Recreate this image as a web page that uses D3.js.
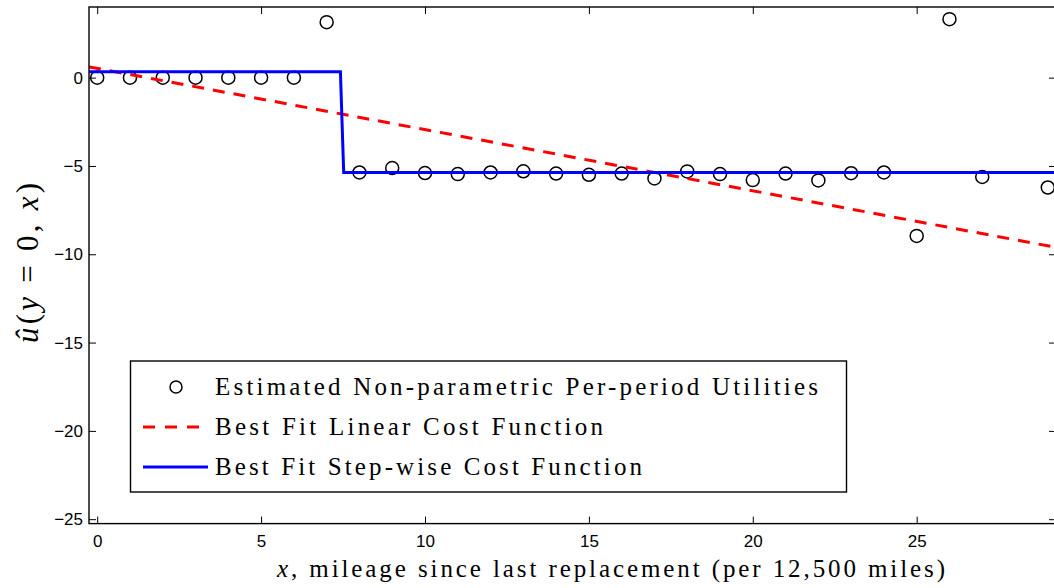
<!DOCTYPE html>
<html>
<head>
<meta charset="utf-8">
<script src="https://cdn.jsdelivr.net/npm/d3@7"></script>
<style>
  body { margin: 0; background: #fff; }
  svg { display: block; }
</style>
</head>
<body>
<div id="chart"></div>
<script>
// estimated per-period utilities (mileage bucket 28 has no estimate)
const mileage = [0, 1, 2, 3, 4, 5, 6, 7, 8, 9, 10, 11, 12, 13, 14, 15, 16, 17, 18, 19, 20, 21, 22, 23, 24, 25, 26, 27, 29];
const utility = [0, 0, 0, 0, 0, 0, 0, 3.14, -5.37, -5.12, -5.4, -5.46, -5.37, -5.3, -5.43, -5.5, -5.43, -5.71, -5.31, -5.46, -5.8, -5.43, -5.82, -5.41, -5.37, -8.96, 3.31, -5.62, -6.22];

// best fit linear cost function (end points)
const linearX = [-0.25, 29.25];
const linearY = [0.61, -9.61];

// best fit step-wise cost function
const stepX = [-0.25, 7.42, 7.52, 29.25];
const stepY = [0.33, 0.33, -5.37, -5.37];

const xTicks = [0, 5, 10, 15, 20, 25];
const yTicks = [0, -5, -10, -15, -20, -25];

const legendLabels = [
  'Estimated Non-parametric Per-period Utilities',
  'Best Fit Linear Cost Function',
  'Best Fit Step-wise Cost Function'
];

// set the dimensions and margins of the graph
const W = 1054, H = 588;
const margin = { top: 7, left: 89 };
const width = 967;
const height = 516.6;

const svg = d3.select('#chart')
  .append('svg')
  .attr('width', W)
  .attr('height', H);

const g = svg.append('g')
  .attr('transform', 'translate(' + margin.left + ',' + margin.top + ')');

const x = d3.scaleLinear().domain([-0.25, 29.25]).range([0, width]);
const y = d3.scaleLinear().domain([-25.25, 4]).range([height, 0]);

const fmt = d => d < 0 ? '\u2212' + Math.abs(d) : String(d);

// axes with inward ticks
const axB = g.append('g')
  .attr('transform', 'translate(0,' + height + ')')
  .call(d3.axisBottom(x).tickValues(xTicks).tickSizeInner(-7).tickSizeOuter(0).tickPadding(11).tickFormat(fmt));
const axT = g.append('g')
  .call(d3.axisTop(x).tickValues(xTicks).tickSizeInner(-7).tickSizeOuter(0).tickFormat(''));
const axL = g.append('g')
  .call(d3.axisLeft(y).tickValues(yTicks).tickSizeInner(-7).tickSizeOuter(0).tickPadding(6).tickFormat(fmt));
const axR = g.append('g')
  .attr('transform', 'translate(' + width + ',0)')
  .call(d3.axisRight(y).tickValues(yTicks).tickSizeInner(-7).tickSizeOuter(0).tickFormat(''));
[axB, axT, axL, axR].forEach(a => {
  a.select('.domain').remove();
  a.selectAll('.tick line').attr('stroke', '#000').attr('stroke-width', 1);
  a.selectAll('.tick text')
    .attr('fill', '#000')
    .style('font-family', '"Liberation Sans", Arial, sans-serif')
    .style('font-size', '17px');
});
axB.selectAll('.tick text').attr('dy', '0.71em');

// clip for data
svg.append('clipPath').attr('id', 'clip')
  .append('rect').attr('width', width).attr('height', height);
const plot = g.append('g').attr('clip-path', 'url(#clip)');

// circles
plot.selectAll('circle.pt')
  .data(mileage.map((m, i) => [m, utility[i]]))
  .enter()
  .append('circle')
  .attr('class', 'pt')
  .attr('cx', d => x(d[0]))
  .attr('cy', d => y(d[1]))
  .attr('r', 6.5)
  .attr('fill', 'none')
  .attr('stroke', '#000')
  .attr('stroke-width', 1.5);

const line = d3.line().x(d => x(d[0])).y(d => y(d[1]));

// linear fit
plot.append('path')
  .datum(linearX.map((v, i) => [v, linearY[i]]))
  .attr('d', line)
  .attr('fill', 'none')
  .attr('stroke', '#ff0000')
  .attr('stroke-width', 3)
  .attr('stroke-dasharray', '12,9');

// step fit
plot.append('path')
  .datum(stepX.map((v, i) => [v, stepY[i]]))
  .attr('d', line)
  .attr('fill', 'none')
  .attr('stroke', '#0000ff')
  .attr('stroke-width', 3);

// frame
g.append('rect')
  .attr('width', width)
  .attr('height', height)
  .attr('fill', 'none')
  .attr('stroke', '#000')
  .attr('stroke-width', 1.4);

// axis labels
const serif = '"Liberation Serif", "DejaVu Serif", serif';
const xl = svg.append('text')
  .attr('x', 277)
  .attr('y', 577)
  .attr('textLength', 668)
  .attr('lengthAdjust', 'spacing')
  .style('font-family', serif)
  .style('font-size', '25px');
xl.append('tspan').style('font-style', 'italic').text('x');
xl.append('tspan').text(', mileage since last replacement (per 12,500 miles)');

const yl = svg.append('text')
  .attr('transform', 'translate(38,' + 263 + ') rotate(-90)')
  .attr('text-anchor', 'middle')
  .attr('textLength', 160)
  .attr('lengthAdjust', 'spacing')
  .style('font-family', serif)
  .style('font-size', '31px');
yl.append('tspan').style('font-style', 'italic').text('\u00fb');
yl.append('tspan').text('(');
yl.append('tspan').style('font-style', 'italic').text('y');
yl.append('tspan').text(' = 0, ');
yl.append('tspan').style('font-style', 'italic').text('x');
yl.append('tspan').text(')');

// legend
const lg = svg.append('g');
lg.append('rect')
  .attr('x', 130.5).attr('y', 361)
  .attr('width', 716).attr('height', 131)
  .attr('fill', '#fff')
  .attr('stroke', '#000')
  .attr('stroke-width', 1.4);
const rowY = [387, 427, 467];
const textW = [603, 388, 427];
lg.append('circle')
  .attr('cx', 176).attr('cy', rowY[0]).attr('r', 6)
  .attr('fill', 'none').attr('stroke', '#000').attr('stroke-width', 1.5);
lg.append('line')
  .attr('x1', 143).attr('x2', 200).attr('y1', rowY[1]).attr('y2', rowY[1])
  .attr('stroke', '#ff0000').attr('stroke-width', 3).attr('stroke-dasharray', '12,10');
lg.append('line')
  .attr('x1', 143).attr('x2', 208).attr('y1', rowY[2]).attr('y2', rowY[2])
  .attr('stroke', '#0000ff').attr('stroke-width', 3);
lg.selectAll('text.lab')
  .data(legendLabels)
  .enter()
  .append('text')
  .attr('class', 'lab')
  .attr('x', 215)
  .attr('y', (d, i) => rowY[i] + 8)
  .attr('textLength', (d, i) => textW[i])
  .attr('lengthAdjust', 'spacing')
  .style('font-family', serif)
  .style('font-size', '25px')
  .text(d => d);
</script>
</body>
</html>
